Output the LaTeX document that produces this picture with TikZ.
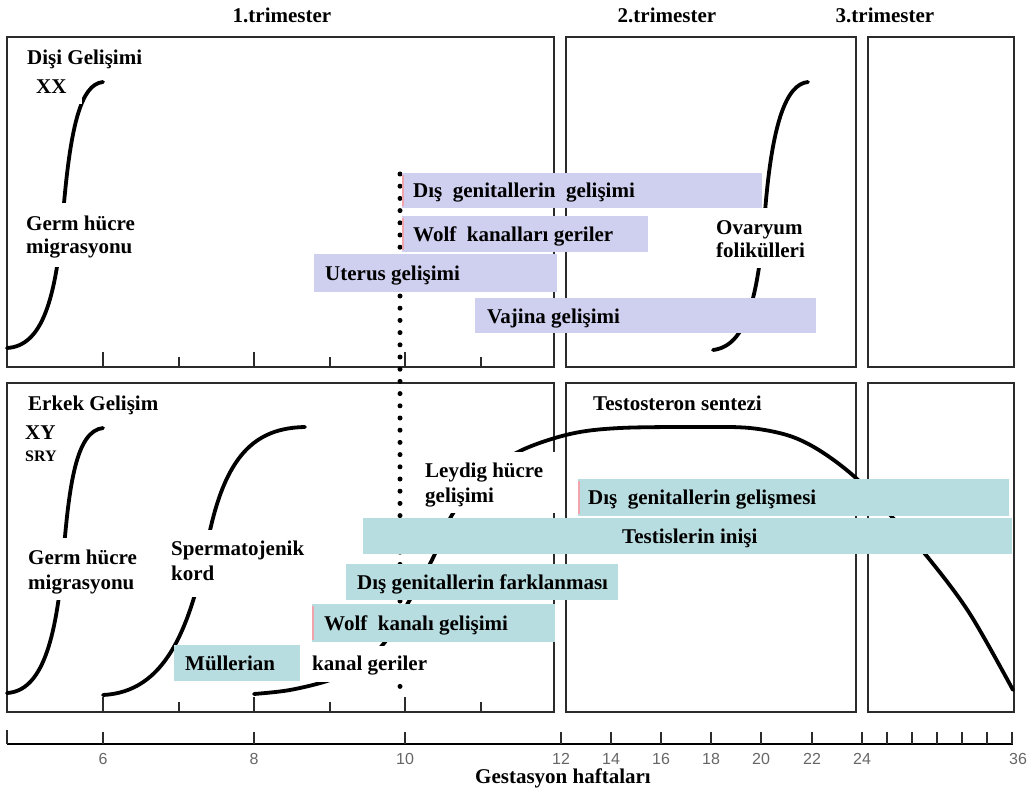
\documentclass[tikz,border=0pt]{standalone}
\usepackage{fontspec}
\setmainfont{Liberation Serif}
\newfontfamily\axisfont{Liberation Sans}
\definecolor{lavbar}{HTML}{CFCFEF}
\definecolor{tealbar}{HTML}{B8DDE0}
\definecolor{framegray}{HTML}{2B2B2B}
\definecolor{pinkedge}{HTML}{F2A3AB}
\newcommand\lblsize{\fontsize{21}{24}\selectfont\bfseries}
\newcommand\smallsize{\fontsize{16}{18}\selectfont\bfseries}
\newcommand\axsize{\axisfont\fontsize{16}{18}\selectfont}

\begin{document}
\begin{tikzpicture}[x=1pt,y=-1pt,
  panel/.style={draw=framegray, line width=2.2pt},
  curve/.style={line width=3.8pt, line cap=round},
  tickmark/.style={line width=1.8pt, draw=framegray},
  lbl/.style={font=\lblsize, anchor=base west, inner sep=0pt},
  hdr/.style={font=\lblsize, inner sep=0pt},
  ticklbl/.style={font=\axsize, text=black!60, inner sep=0pt},
  edge/.style={draw=pinkedge, line width=1.6pt},
  dots/.style={line width=5pt, line cap=round, dash pattern=on 0pt off 12.2pt}]
\useasboundingbox (0,0) rectangle (1029,797);

% panel frames and week ticks of the two rows
\foreach \yt/\yb in {37/367, 383/712} {
  \draw[panel] (7,\yt) rectangle (554,\yb);
  \draw[panel] (566,\yt) rectangle (856,\yb);
  \draw[panel] (868,\yt) rectangle (1014,\yb);
  \foreach \x in {103,254,405} \draw[tickmark] (\x,\yb) -- ++(0,-15);
  \foreach \x in {179,330,481} \draw[tickmark] (\x,\yb) -- ++(0,-10);
}

% female curves
\draw[curve] (7,348) .. controls (42,346) and (56,300) .. (63,215)
             .. controls (70,130) and (80,84) .. (103,82);
\draw[curve] (713,350) .. controls (746,346) and (758,300) .. (765,212)
             .. controls (772,124) and (786,84) .. (808,82);

% male curves
\draw[curve] (7,693) .. controls (42,691) and (56,640) .. (63,560)
             .. controls (69,485) and (76,431) .. (103,428);
\draw[curve] (103,695) .. controls (165,692) and (190,630) .. (208,540)
             .. controls (225,455) and (255,428) .. (305,427);
\draw[curve] plot[smooth, tension=0.55] coordinates {
  (254,694) (290,690) (330,680) (360,665) (385,642) (408,603) (432,560)
  (452,515) (480,478) (520,451) (570,434) (620,428) (700,427) (750,428)
  (790,436) (822,452) (857,479) (893,518) (930,560) (970,614) (1013,690)};

% week 10 marker
\draw[dots] (400,174) -- (400,694);

% white label grounds
\fill[white] (33,74) rectangle (82,104);
\fill[white] (24,203) rectangle (136,267);
\fill[white] (704,208) rectangle (810,268);
\fill[white] (23,444) rectangle (72,472);
\fill[white] (26,538) rectangle (137,600);
\fill[white] (169,530) rectangle (306,597);
\fill[white] (310,646) rectangle (428,682);
\fill[white] (420,452) rectangle (555,513);

% female bars
\fill[lavbar] (402,173) rectangle (762,208);
\fill[lavbar] (402,216) rectangle (648,252);
\fill[lavbar] (314,254) rectangle (557,292);
\fill[lavbar] (475,298) rectangle (816,333);
\draw[edge] (403,175) -- (403,206);
\draw[edge] (403,218) -- (403,250);

% male bars
\fill[tealbar] (578,479) rectangle (1009,516);
\fill[tealbar] (363,518) rectangle (1012,554);
\fill[tealbar] (346,564) rectangle (618,600);
\fill[tealbar] (312,604) rectangle (555,642);
\fill[tealbar] (174,645) rectangle (300,681);
\draw[edge] (579,481) -- (579,514);
\draw[edge] (313,606) -- (313,640);

% trimester headings
\node[hdr] (t1) at (282,15) {1.trimester};
\node[hdr] (t2) at (667,15) {2.trimester};
\node[hdr] (t3) at (885,15) {3.trimester};

% female labels
\node[lbl] (fdev) at (27,65) {Dişi Gelişimi};
\node[lbl] (fxx) at (36,94) {XX};
\node[lbl] (fg1) at (26,230) {Germ hücre};
\node[lbl] (fg2) at (26,254) {migrasyonu};
\node[lbl] (ov1) at (716,234) {Ovaryum};
\node[lbl] (ov2) at (716,258) {folikülleri};
\node[lbl] (fext) at (413,198) {Dış\ \ genitallerin\ \ gelişimi};
\node[lbl] (fwolf) at (413,241) {Wolf\ \ kanalları geriler};
\node[lbl] (fut) at (325,280) {Uterus\ gelişimi};
\node[lbl] (fvag) at (487,323) {Vajina gelişimi};

% male labels
\node[lbl] (mdev) at (28,410) {Erkek Gelişim};
\node[lbl] (mxy) at (25,439) {XY};
\node[lbl, font=\smallsize] (msry) at (25,461) {SRY};
\node[lbl] (mg1) at (28,564) {Germ hücre};
\node[lbl] (mg2) at (28,589) {migrasyonu};
\node[lbl] (sp1) at (171,555) {Spermatojenik};
\node[lbl] (sp2) at (171,580) {kord};
\node[lbl] (ley1) at (425,477) {Leydig hücre};
\node[lbl] (ley2) at (425,502) {gelişimi};
\node[lbl] (testo) at (593,410) {Testosteron sentezi};
\node[lbl] (mext) at (588,504) {Dış\ \ genitallerin gelişmesi};
\node[lbl] (desc) at (622,543) {Testislerin inişi};
\node[lbl] (mdiff) at (357,589) {Dış genitallerin farklanması};
\node[lbl] (mwolf) at (324,630) {Wolf\ \ kanalı gelişimi};
\node[lbl] (mul) at (185,670) {Müllerian};
\node[lbl] (mreg) at (312,670) {kanal geriler};

% gestation week axis
\draw[line width=1.8pt] (7,744) -- (1013,744);
\draw[tickmark] (7,744) -- ++(0,-14);
\foreach \x/\w in {103/6, 254/8, 405/10, 561/12, 611/14, 661/16, 711/18, 761/20, 812/22, 862/24} {
  \draw[tickmark] (\x,744) -- ++(0,-12);
  \node[ticklbl] (w\w) at (\x,759) {\w};
}
\foreach \x in {887,912,937,962,987,1012} \draw[tickmark] (\x,744) -- ++(0,-12);
\node[ticklbl] (w36) at (1018,759) {36};
\node[hdr] (axlbl) at (563,778) {Gestasyon haftaları};
\end{tikzpicture}
\end{document}
